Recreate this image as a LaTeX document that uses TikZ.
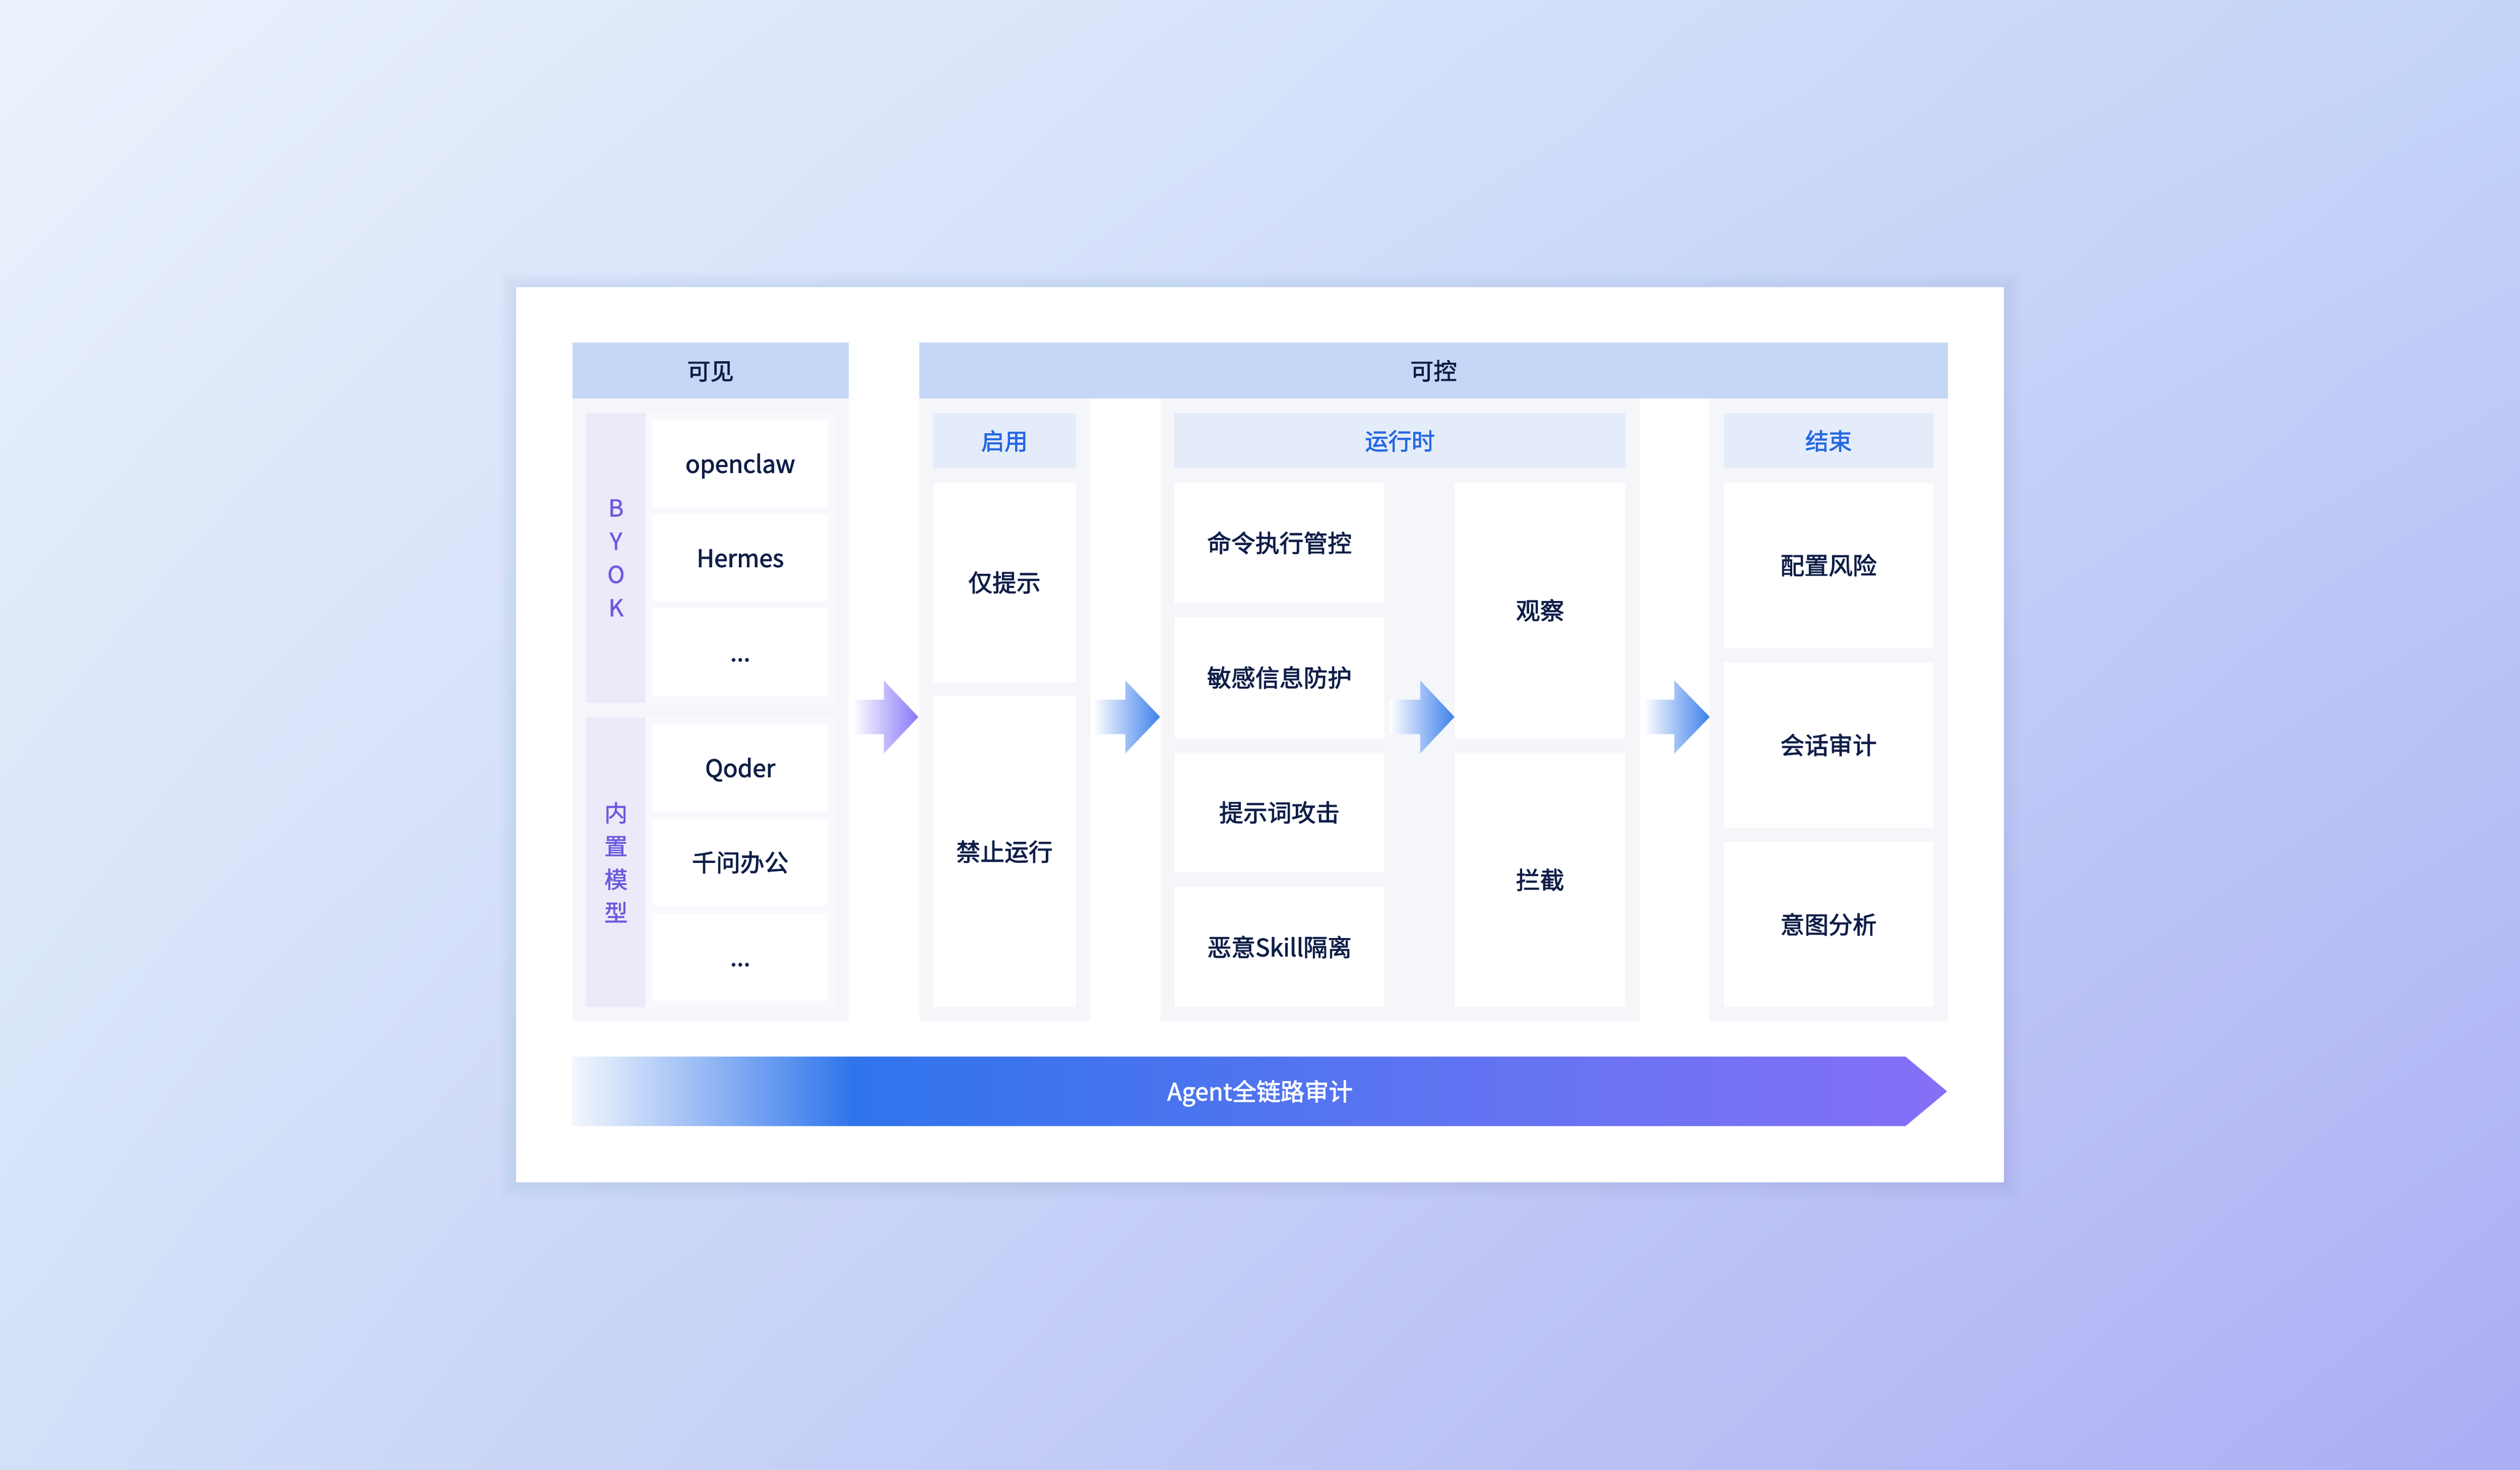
\documentclass[tikz,border=0pt]{standalone}
\usepackage{fontspec}
\setmainfont{Noto Sans CJK SC}
\newfontfamily\medcjk[FakeBold=2]{Noto Sans CJK SC}
\newfontfamily\regcjk[FakeBold=1.4]{Noto Sans CJK SC}
\usetikzlibrary{shadings}
\definecolor{navy}{HTML}{0E1E48}
\definecolor{hdrc}{HTML}{C4D7F7}
\definecolor{subc}{HTML}{E4ECFA}
\definecolor{subtxt}{HTML}{2668E3}
\definecolor{panelc}{HTML}{F5F6F9}
\definecolor{grpc}{HTML}{F8F9FC}
\definecolor{lavc}{HTML}{ECE9F9}
\definecolor{purpc}{HTML}{6B5ADF}
\definecolor{bgtl}{HTML}{EBF2FC}
\definecolor{bgtr}{HTML}{C4D4F8}
\definecolor{bgbl}{HTML}{D2E0F8}
\definecolor{bgbr}{HTML}{ACADF4}
\definecolor{shc}{HTML}{6F8BD8}
\definecolor{barw}{HTML}{F3F7FD}
\definecolor{barblue}{HTML}{2F74EB}
\definecolor{barmid}{HTML}{5B74F1}
\definecolor{barend}{HTML}{8570F7}
\definecolor{aPmid}{HTML}{AEB6F6}
\definecolor{aPend}{HTML}{8878F8}
\definecolor{aBmid}{HTML}{92B5F2}
\definecolor{aBend}{HTML}{3D80EB}
\pgfdeclarehorizontalshading{barshade}{100bp}{color(0bp)=(barw); color(25bp)=(barw); color(35.2bp)=(barblue); color(55bp)=(barmid); color(75bp)=(barend); color(100bp)=(barend)}
\newcommand\myHdrFont{\medcjk\fontsize{14.5}{17}\selectfont}
\newcommand\myBoxFont{\medcjk\fontsize{15}{18}\selectfont}
\newcommand\myStripFont{\regcjk\fontsize{14.5}{20.7}\selectfont}
% #1 style, #2 x1, #3 y1, #4 x2, #5 y2, #6 name, #7 text
\newcommand\myBox[7]{%
  \node[#1, minimum width={#4-#2}, minimum height={#5-#3}] (#6) at ({(#2+#4)/2},{(#3+#5)/2}) {#7};}
\newcommand\myArrow[5]{%
  \shade[left color=white, middle color=#4, right color=#5]
    (#1,435.6) -- (#2,435.6) -- (#2,423.6) -- (#3,446.3) -- (#2,469) -- (#2,457) -- (#1,457) -- cycle;}
\begin{document}
\begin{tikzpicture}[x=1pt,y=-1pt,
  plain/.style={inner sep=0pt, outer sep=0pt, draw=none, rectangle},
  txtline/.style={text height=12.6pt, text depth=1.2pt},
  hdrbox/.style={plain, txtline, fill=hdrc, text=navy, font=\myHdrFont},
  subbox/.style={plain, txtline, fill=subc, text=subtxt, font=\myHdrFont},
  panel/.style={plain, fill=panelc},
  grp/.style={plain, fill=grpc},
  strip/.style={plain, fill=lavc, text=purpc, font=\myStripFont, align=center},
  wbox/.style={plain, txtline, fill=white, text=navy, font=\myBoxFont},
]
\useasboundingbox (0,0) rectangle (1568,915);
% background
\shade[upper left=bgtl, upper right=bgtr, lower left=bgbl, lower right=bgbr] (0,0) rectangle (1568,915);
% card shadow
\foreach \r in {1,2,...,10} {
  \fill[shc, fill opacity=0.012] (321.2-\r,178.6-\r+1) rectangle (1246.8+\r,736.1+\r+1);
}
\myBox{plain, fill=white}{321.2}{178.6}{1246.8}{736.1}{card}{}
% headers
\myBox{hdrbox}{356.1}{213.4}{528}{248}{visHdr}{可见}
\myBox{hdrbox}{572}{213.4}{1212}{248}{ctlHdr}{可控}
% panels
\myBox{panel}{356.1}{248}{528}{635.6}{visPanel}{}
\myBox{panel}{572}{248}{678.4}{635.6}{enPanel}{}
\myBox{panel}{722.1}{248}{1020.3}{635.6}{rtPanel}{}
\myBox{panel}{1063.8}{248}{1212}{635.6}{endPanel}{}
% visible column
\myBox{grp}{401.8}{257}{519.4}{437.5}{byokGrp}{}
\myBox{grp}{401.8}{446.5}{519.4}{627}{builtGrp}{}
\myBox{strip}{364.8}{257}{401.8}{437.5}{byok}{B\\Y\\O\\K}
\myBox{strip}{364.8}{446.5}{401.8}{627}{built}{内\\置\\模\\型}
\myBox{wbox}{406.2}{261.5}{515}{315.8}{openclaw}{openclaw}
\myBox{wbox}{406.2}{320.3}{515}{374.3}{hermes}{Hermes}
\myBox{wbox}{406.2}{378.9}{515}{433}{moreA}{...}
\myBox{wbox}{406.2}{450.8}{515}{505.2}{qoder}{Qoder}
\myBox{wbox}{406.2}{509.8}{515}{563.9}{qianwen}{千问办公}
\myBox{wbox}{406.2}{568.7}{515}{622.7}{moreB}{...}
% enable column
\myBox{subbox}{580.4}{257}{669.6}{291.6}{enHdr}{启用}
\myBox{wbox}{580.4}{300.6}{669.6}{424.6}{hint}{仅提示}
\myBox{wbox}{580.4}{433.4}{669.6}{627}{forbid}{禁止运行}
% runtime column
\myBox{subbox}{730.7}{257}{1011.5}{291.6}{rtHdr}{运行时}
\myBox{wbox}{730.7}{300.6}{861.5}{375.4}{cmd}{命令执行管控}
\myBox{wbox}{730.7}{384.3}{861.5}{459.3}{sens}{敏感信息防护}
\myBox{wbox}{730.7}{468.4}{861.5}{543.1}{prompt}{提示词攻击}
\myBox{wbox}{730.7}{552.2}{861.5}{627}{skill}{恶意Skill隔离}
\myBox{wbox}{905}{300.6}{1011.5}{459.3}{observe}{观察}
\myBox{wbox}{905}{468.4}{1011.5}{627}{block}{拦截}
% end column
\myBox{subbox}{1072.5}{257}{1203}{291.6}{endHdr}{结束}
\myBox{wbox}{1072.5}{300.6}{1203}{403.2}{cfg}{配置风险}
\myBox{wbox}{1072.5}{412.4}{1203}{515.2}{sess}{会话审计}
\myBox{wbox}{1072.5}{524}{1203}{627}{intent}{意图分析}
% flow arrows
\myArrow{530.4}{549.9}{571.4}{aPmid}{aPend}
\myArrow{680.4}{700.2}{721.8}{aBmid}{aBend}
\myArrow{864.5}{883.7}{905}{aBmid}{aBend}
\myArrow{1022.8}{1041.8}{1063.8}{aBmid}{aBend}
% audit bar
\shade[shading=barshade] (356.1,657.7) -- (1185.6,657.7) -- (1211.5,679.4) -- (1185.6,701) -- (356.1,701) -- cycle;
\node[plain, txtline, text=white, font=\myBoxFont] (audit) at (784,679.4) {Agent全链路审计};
\end{tikzpicture}
\end{document}
